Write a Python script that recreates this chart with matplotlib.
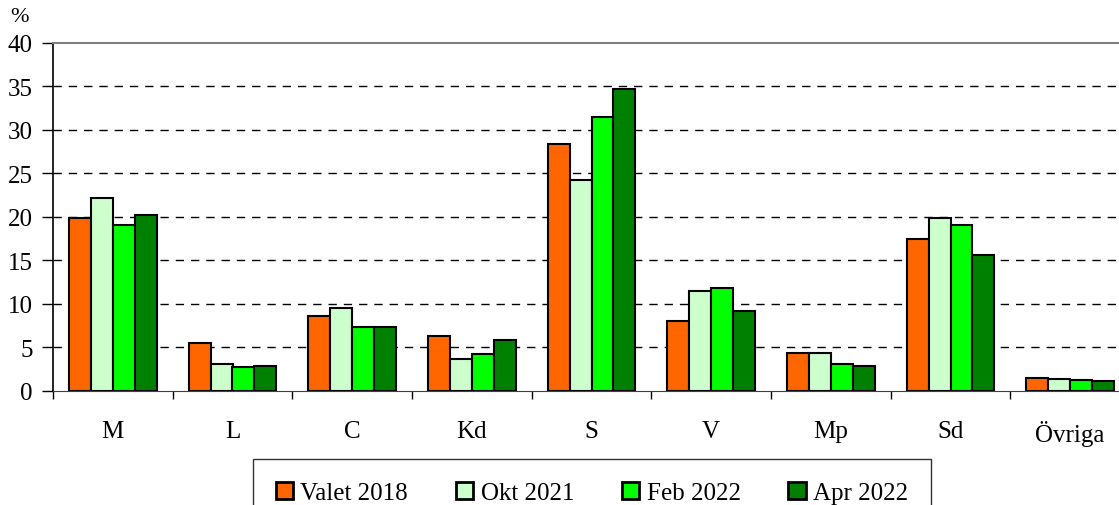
import numpy as np
import matplotlib.pyplot as plt

# party support in percent, by poll
parties = ["M", "L", "C", "Kd", "S", "V", "Mp", "Sd", "Övriga"]
valet_2018 = [19.8, 5.5, 8.6, 6.3, 28.3, 8.0, 4.4, 17.5, 1.5]
okt_2021 = [22.1, 3.1, 9.5, 3.7, 24.2, 11.5, 4.4, 19.9, 1.4]
feb_2022 = [19.1, 2.7, 7.3, 4.2, 31.4, 11.8, 3.1, 19.0, 1.3]
apr_2022 = [20.2, 2.9, 7.4, 5.8, 34.7, 9.2, 2.9, 15.6, 1.2]
series_names = ["Valet 2018", "Okt 2021", "Feb 2022", "Apr 2022"]
colors = ["#FF6600", "#CCFFCC", "#00FF00", "#008000"]

plt.rcParams["font.family"] = ["Liberation Serif", "DejaVu Serif"]

fig = plt.figure(figsize=(11.19, 5.06), dpi=100)
ax = fig.add_axes([53 / 1119, 114 / 506, 1077 / 1119, 348.5 / 506])

x = np.arange(len(parties))
w = 0.183
for i, (vals, name, c) in enumerate(zip([valet_2018, okt_2021, feb_2022, apr_2022], series_names, colors)):
    ax.bar(x + (i - 1.5) * w, vals, w, color=c, edgecolor="black", linewidth=1.5,
           label=name, zorder=3)

ax.set_xlim(-0.5, len(parties) - 0.5)
ax.set_ylim(0, 40)
ax.set_yticks(range(0, 41, 5))
ax.set_xticks(x)
ax.set_xticklabels(parties)
ax.set_xticks(np.arange(-0.5, len(parties), 1), minor=True)
ax.tick_params(axis="x", which="major", length=0, pad=21, labelsize=18)
ax.tick_params(axis="x", which="minor", length=6, width=1, direction="out")
ax.tick_params(axis="y", length=8, width=1, direction="out", labelsize=18, pad=6.5)

for yv in range(5, 40, 5):
    ax.axhline(yv, color="black", linewidth=1, dashes=(6, 5), zorder=1)

ax.spines["top"].set_color("#808080")
ax.spines["top"].set_linewidth(1.5)
ax.spines["right"].set_visible(False)
ax.spines["left"].set_linewidth(1.2)
ax.spines["bottom"].set_color("#404040")

fig.text(10 / 1119, 1 - 17 / 506, "%", fontsize=16, va="center")

leg = fig.legend(loc="upper left", bbox_to_anchor=(253 / 1119, 1 - 460 / 506), ncol=4,
                 fontsize=18, frameon=True, fancybox=False, edgecolor="black",
                 handlelength=0.7, handleheight=0.7, handletextpad=0.3,
                 columnspacing=1.9, borderpad=0.9, borderaxespad=0)
leg.get_frame().set_linewidth(1)
for h in leg.legend_handles:
    h.set_linewidth(2)

fig.savefig("out.png", dpi=100)
